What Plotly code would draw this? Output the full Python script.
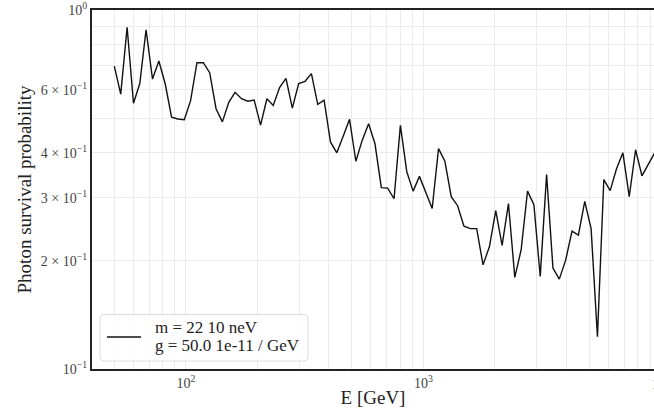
import plotly.graph_objects as go

# Energies (GeV), log-spaced
energy = [50.0, 53.2, 56.6, 60.2, 64.0, 68.0, 72.4, 77.0, 81.9, 87.1,
          92.6, 98.5, 104.7, 111.4, 118.5, 126.0, 134.0, 142.5, 151.6, 161.2,
          171.5, 182.4, 193.9, 206.3, 219.4, 233.3, 248.1, 263.9, 280.7, 298.5,
          317.5, 337.7, 359.1, 381.9, 406.2, 432.0, 459.5, 488.7, 519.7, 552.8,
          587.9, 625.3, 665.0, 707.2, 752.2, 800.0, 850.8, 904.9, 962.4, 1023.6,
          1088.6, 1157.8, 1231.4, 1309.6, 1392.9, 1481.4, 1575.5, 1675.7, 1782.2, 1895.4,
          2015.9, 2144.0, 2280.2, 2425.1, 2579.3, 2743.2, 2917.5, 3102.9, 3300.1, 3509.8,
          3732.8, 3970.0, 4222.3, 4490.6, 4776.0, 5079.5, 5402.3, 5745.6, 6110.7, 6499.0,
          6912.0, 7351.3, 7818.4, 8315.3, 8843.7, 9405.7]

# Photon survival probability
survival = [0.698, 0.583, 0.895, 0.550, 0.624, 0.881, 0.642, 0.721, 0.622, 0.503,
            0.497, 0.495, 0.559, 0.713, 0.713, 0.669, 0.531, 0.488, 0.553, 0.590,
            0.566, 0.557, 0.561, 0.478, 0.566, 0.542, 0.608, 0.645, 0.533, 0.624,
            0.633, 0.665, 0.546, 0.561, 0.429, 0.400, 0.445, 0.496, 0.379, 0.434,
            0.482, 0.424, 0.320, 0.319, 0.298, 0.477, 0.355, 0.313, 0.344, 0.312,
            0.280, 0.411, 0.379, 0.302, 0.285, 0.250, 0.246, 0.246, 0.195, 0.219,
            0.276, 0.221, 0.289, 0.180, 0.215, 0.313, 0.287, 0.181, 0.348, 0.191,
            0.178, 0.201, 0.242, 0.236, 0.293, 0.246, 0.123, 0.337, 0.314, 0.361,
            0.400, 0.302, 0.408, 0.345, 0.373, 0.400]

legend_lines = ["m = 22 10 neV", "g = 50.0 1e-11 / GeV"]

# Grid / tick positions
x_grid = [m * 10 ** d for d in (1, 2, 3) for m in range(1, 10)] + [10000]
x_labels = {100: "10<sup>2</sup>", 1000: "10<sup>3</sup>"}
y_grid = [0.1, 0.2, 0.3, 0.4, 0.5, 0.6, 0.7, 0.8, 0.9, 1.0]
y_labels = {0.1: "10<sup>−1</sup>", 0.2: "2 × 10<sup>−1</sup>", 0.3: "3 × 10<sup>−1</sup>",
            0.4: "4 × 10<sup>−1</sup>", 0.6: "6 × 10<sup>−1</sup>", 1.0: "10<sup>0</sup>"}

FONT = "Liberation Serif"
W, H = 654, 408
ML, MR, MT, MB = 92, 0, 7, 39
PW, PH = W - ML - MR, H - MT - MB


def px(xp):
    return (xp - ML) / PW


def py(yp):
    return (H - MB - yp) / PH


fig = go.Figure()
fig.add_trace(go.Scatter(x=energy, y=survival, mode="lines",
                         line=dict(color="#111111", width=1.4),
                         name=" / ".join(legend_lines), showlegend=False))

fig.update_layout(
    width=W, height=H,
    margin=dict(l=ML, r=MR, t=MT, b=MB),
    paper_bgcolor="white", plot_bgcolor="white",
    font=dict(family=FONT, color="#222222"),
    showlegend=False,
)

fig.update_xaxes(
    type="log", range=[1.605, 3.9706],
    tickvals=x_grid, ticktext=[x_labels.get(v, "") for v in x_grid],
    ticks="", showgrid=True, gridcolor="#ebebeb", gridwidth=1,
    showline=True, linecolor="#222222", linewidth=2, mirror=True,
    zeroline=False, ticklabeloverflow="allow",
    tickfont=dict(family=FONT, size=14, color="#444444"),
    title=dict(text="E [GeV]", font=dict(family=FONT, size=19, color="#222222"), standoff=2),
)
fig.update_yaxes(
    type="log", range=[-1, 0],
    tickvals=y_grid, ticktext=[y_labels.get(v, "") for v in y_grid],
    ticks="", showgrid=True, gridcolor="#ebebeb", gridwidth=1,
    showline=True, linecolor="#222222", linewidth=2, mirror=False,
    zeroline=False, ticklabeloverflow="allow",
    tickfont=dict(family=FONT, size=14, color="#444444"),
    title=dict(text="Photon survival probability", font=dict(family=FONT, size=19, color="#222222"), standoff=4),
)

# partially visible 10^4 label at the clipped right edge
fig.add_annotation(x=px(661), y=py(372), xref="paper", yref="paper",
                   text="10<sup>4</sup>", showarrow=False, xanchor="center", yanchor="top",
                   font=dict(family=FONT, size=14, color="#444444"))

# legend box (rounded rectangle) drawn in paper coordinates
x0, x1, y0, y1, r = 100, 308, 314, 361, 4
rx, ry = r / PW, r / PH
X0, X1, Y0, Y1 = px(x0), px(x1), py(y1), py(y0)
path = (f"M {X0+rx},{Y0} L {X1-rx},{Y0} Q {X1},{Y0} {X1},{Y0+ry} "
        f"L {X1},{Y1-ry} Q {X1},{Y1} {X1-rx},{Y1} "
        f"L {X0+rx},{Y1} Q {X0},{Y1} {X0},{Y1-ry} "
        f"L {X0},{Y0+ry} Q {X0},{Y0} {X0+rx},{Y0} Z")
fig.add_shape(type="path", path=path, xref="paper", yref="paper",
              fillcolor="rgba(255,255,255,0.85)", line=dict(color="#dcdcdc", width=1))
fig.add_shape(type="line", xref="paper", yref="paper",
              x0=px(107), x1=px(141), y0=py(336.7), y1=py(336.7),
              line=dict(color="#111111", width=1.4))
for txt, yc in zip(legend_lines, (327, 345)):
    fig.add_annotation(x=px(153), y=py(yc), xref="paper", yref="paper",
                       text=txt, showarrow=False, xanchor="left", yanchor="middle",
                       font=dict(family=FONT, size=17, color="#222222"))

fig.write_html("out.html")
